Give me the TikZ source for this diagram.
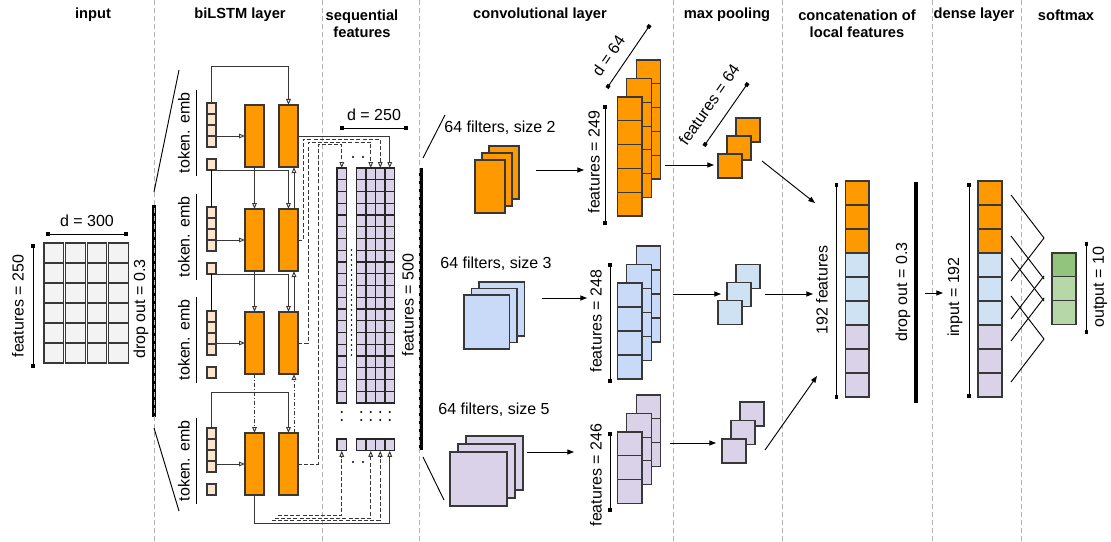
\documentclass[tikz,border=0pt]{standalone}
\usepackage{fontspec}
\setmainfont{Liberation Sans}
\usetikzlibrary{arrows.meta,calc}

\definecolor{orng}{HTML}{FF9900}
\definecolor{peach}{HTML}{FCE5CD}
\definecolor{lgray}{HTML}{F3F3F3}
\definecolor{cblue}{HTML}{C9DAF8}
\definecolor{pblue}{HTML}{CFE2F3}
\definecolor{lpurp}{HTML}{D9D2E9}
\definecolor{dgreen}{HTML}{93C47D}
\definecolor{lgreen}{HTML}{B6D7A8}
\definecolor{edge}{HTML}{383838}

\tikzset{
  sepline/.style={draw=black!30, line width=0.7pt, dash pattern=on 3.5pt off 2.5pt},
  box/.style={draw=edge, line width=0.8pt, inner sep=0pt, outer sep=0pt, anchor=north west},
  wh/.style 2 args={minimum width=#1*0.75pt, minimum height=#2*0.75pt},
  seqcell/.style={box, draw=black!85, line width=0.85pt, fill=lpurp, wh={9.5}{11.75}},
  coltitle/.style={font=\bfseries\fontsize{11}{12.75}\selectfont, align=center},
  lbl/.style={font=\fontsize{12}{14}\selectfont, inner sep=0pt},
  vlbl/.style={lbl, rotate=90},
  dimline/.style={line width=0.7pt, {Square[length=2.8pt,width=2.8pt]}-{Square[length=2.8pt,width=2.8pt]}},
  oarr/.style={draw=edge, -{Triangle[open,length=4.5pt,width=3.5pt]}},
  farr/.style={-{Triangle[length=5pt,width=3.8pt]}},
  dropbar/.style={line width=3pt},
  dashdt/.style={dash pattern=on 3pt off 1.5pt on 0.8pt off 1.5pt},
  dsh/.style={dash pattern=on 3pt off 1.6pt},
}

\begin{document}
\begin{tikzpicture}[x=0.75pt,y=-0.75pt,line width=0.7pt]
\useasboundingbox (0,0) rectangle (1111,542);

% column titles
\node[coltitle] (tin) at (93,15) {input};
\node[coltitle] (tbl) at (240,15) {biLSTM layer};
\node[coltitle] (tsq) at (362,23.5) {sequential\\features};
\node[coltitle] (tcv) at (540,15) {convolutional layer};
\node[coltitle] (tmp) at (727,15) {max pooling};
\node[coltitle] (tcc) at (857,23.5) {concatenation of\\local features};
\node[coltitle] (tdn) at (974,15) {dense layer};
\node[coltitle] (tsm) at (1066,15) {softmax};

% dropout bars and separators
\draw[dropbar] (154,205) -- (154,417);
\draw[dropbar] (420.5,168) -- (420.5,450);
\draw[dropbar] (916,182) -- (916,403);
\foreach \x in {154,322,419,673,782,932,1021}
  \draw[sepline] (\x,0) -- (\x,542);

% input
\foreach \i in {0,...,3}
  \foreach \j in {0,...,5}
    \node[box, fill=lgray, wh={19.5}{20}] (in\i-\j) at ({44+21.6*\i},{243+20*\j}) {};
\draw[dimline] (46,234) -- (128,234) node[lbl, midway, above=5.5pt] {d = 300};
\draw[dimline] (33,244) -- (33,368);
\node[vlbl] (inf) at (18,306) {features = 250};
\node[vlbl] (ind) at (141,309) {drop out = 0.3};
\draw (154,192) -- (179,70);
\draw (154,428) -- (179,511);

% biLSTM
\foreach \k/\y/\t in {1/103/105, 2/207/209, 3/311/312, 4/428/433} {
  \foreach \j in {0,...,3}
    \node[box, fill=peach, wh={9}{11}] (tok\k-\j) at (207,{\y+11*\j}) {};
  \node[box, fill=peach, wh={9}{11}] (sml\k) at (207,{\y+56}) {};
  \node[box, fill=orng, wh={19}{62}] (fwd\k) at (245,\t) {};
  \node[box, fill=orng, wh={19}{62}] (bwd\k) at (279,\t) {};
  \node[vlbl] (emb\k) at (184,{\t+28}) {token. emb};
  \draw (196,{\t-15}) -- (196,{\t+71});
  \draw[oarr] (tok\k-3.east |- fwd\k.west) -- (fwd\k.west);
}
\draw[oarr] (tok1-0.north) -- ++(0,-37) -| (bwd1.north);
\draw[oarr] (tok4-0.north) -- ++(0,-36) -| (bwd4.north);
\foreach \k/\n in {1/2,2/3} {
  \draw (sml\k.south) -- (tok\n-0.north);
  \draw[oarr] (sml\k.south east) -| (bwd\n.north);
  \draw[oarr] (fwd\k.south) -- (fwd\n.north);
  \draw[oarr] ($(bwd\n.north)+(5.5,0)$) -- ($(bwd\k.south)+(5.5,0)$);
}
\draw[oarr,dashdt] (fwd3.south) -- (fwd4.north);
\draw[oarr,dashdt] ($(bwd4.north)+(5.5,0)$) -- ($(bwd3.south)+(5.5,0)$);

% sequential features
\foreach \col/\x in {A/337,B/356.5,C/366,D/375.5,E/385} {
  \foreach \j in {0,...,19}
    \node[seqcell] (\col\j) at (\x,{168+11.75*\j}) {};
  \node[seqcell] (\col-end) at (\x,439) {};
  \fill ({\x+4.75},412) circle (0.8pt) ({\x+4.75},420) circle (0.8pt);
}
\fill (353,157) circle (0.8pt) (363,157) circle (0.8pt);
\fill (353,462) circle (0.8pt) (363,462) circle (0.8pt);
\foreach \y in {250,255,...,358}
  \fill (351.5,\y) circle (0.7pt);
\draw[oarr] (bwd1.east) -| (E0.north);
\draw[oarr,dsh] (bwd2.east) -- ++(5,0) |- ($(D0.north)+(0,-29)$) -- (D0.north);
\draw[oarr,dsh] (bwd3.east) -- ++(10,0) |- ($(C0.north)+(0,-26)$) -- (C0.north);
\draw[oarr,dsh] (bwd4.east) -- ++(20,0) |- ($(A0.north)+(0,-23.5)$) -- (A0.north);
\draw[oarr] (fwd4.south) -- ++(0,28) -| (E-end.south);
\coordinate (fa) at (278,515.5);
\coordinate (fc) at (275,518);
\coordinate (fd) at (272,520.5);
\draw[oarr,dsh] (fa) -| (A-end.south);
\draw[oarr,dsh] (fc) -| (C-end.south);
\draw[oarr,dsh] (fd) -| (D-end.south);
\draw[dimline] (340,128) -- (408,128) node[lbl, midway, above=5.5pt] {d = 250};
\node[vlbl] (sqf) at (408,305) {features = 500};
\draw (423,158) -- (445,115);
\draw (423,457) -- (444,500);

% convolutional layer
\foreach \i in {2,1,0} {
  \node[box, fill=orng, wh={30}{53}] (fltA\i) at ({475+7*\i},{160-7*\i}) {};
  \node[box, fill=cblue, wh={45.5}{54}] (fltB\i) at ({464+7.5*\i},{295-6.5*\i}) {};
  \node[box, fill=lpurp, wh={57}{54}] (fltC\i) at ({450+8*\i},{452-8*\i}) {};
}
\node[lbl, anchor=west] (fla) at (444,128) {64 filters, size 2};
\node[lbl, anchor=west] (flb) at (440,264) {64 filters, size 3};
\node[lbl, anchor=west] (flc) at (438,410) {64 filters, size 5};
\foreach \i in {2,1,0} {
  \foreach \j in {0,...,4}
    \node[box, fill=orng, wh={24.5}{23.8}] (mapA\i-\j) at ({617.5+9.3*\i},{97-18.5*\i+23.8*\j}) {};
  \foreach \j in {0,...,3}
    \node[box, fill=cblue, wh={24.5}{24}] (mapB\i-\j) at ({617.5+9.3*\i},{283-18.5*\i+24*\j}) {};
  \foreach \j in {0,...,2}
    \node[box, fill=lpurp, wh={24.5}{23.7}] (mapC\i-\j) at ({617.5+9.3*\i},{432-18.5*\i+23.7*\j}) {};
}
\coordinate (ca1) at (536,170);  \coordinate (ca2) at (584,170);
\coordinate (cb1) at (542,298);  \coordinate (cb2) at (587,298);
\coordinate (cc1) at (527,452);  \coordinate (cc2) at (574,452);
\draw[farr] (ca1) -- (ca2);
\draw[farr] (cb1) -- (cb2);
\draw[farr] (cc1) -- (cc2);
\draw[dimline] (605,105) -- (605,225);
\node[vlbl] (mfa) at (594,162) {features = 249};
\draw[dimline] (610,263) -- (610,383);
\node[vlbl] (mfb) at (596,321) {features = 248};
\draw[dimline] (610,432) -- (610,512);
\node[vlbl] (mfc) at (596,475) {features = 246};
\draw[dimline] (607,88) -- (650,25) node[lbl, pos=0.36, above=8pt, sloped] {d = 64};

% max pooling
\foreach \i in {2,1,0} {
  \node[box, fill=orng, wh={24}{24}] (poolA\i) at ({718+9*\i},{154-18*\i}) {};
  \node[box, fill=pblue, wh={24}{24}] (poolB\i) at ({718+9*\i},{300.5-18.2*\i}) {};
  \node[box, fill=lpurp, wh={24}{24}] (poolC\i) at ({722+9*\i},{439-18.5*\i}) {};
}
\draw[dimline] (704,146) -- (748,83) node[lbl, pos=0.48, above=10pt, sloped] {features = 64};
\coordinate (pa1) at (665,165);  \coordinate (pa2) at (714,165);
\coordinate (pb1) at (673,294);  \coordinate (pb2) at (721,294);
\coordinate (pc1) at (670,443);  \coordinate (pc2) at (716,443);
\coordinate (qa1) at (762,161);  \coordinate (qa2) at (815,203);
\coordinate (qb1) at (765,294);  \coordinate (qb2) at (813,294);
\coordinate (qc1) at (765,450);  \coordinate (qc2) at (817,376);
\foreach \p in {pa,pb,pc,qa,qb,qc}
  \draw[farr] (\p1) -- (\p2);

% concatenation, dense layer
\foreach \j/\f in {0/orng,1/orng,2/orng,3/pblue,4/pblue,5/pblue,6/lpurp,7/lpurp,8/lpurp} {
  \node[box, fill=\f, wh={23.5}{24}] (cat\j) at (845.5,{181+24*\j}) {};
  \node[box, fill=\f, wh={24}{24}] (dns\j) at (978,{181+24*\j}) {};
}
\draw[dimline] (836.5,183) -- (836.5,399);
\node[vlbl] (ccf) at (822,290) {192 features};
\node[vlbl] (ccd) at (903,292) {drop out = 0.3};
\coordinate (da1) at (925,293);  \coordinate (da2) at (943,293);
\draw[farr] (da1) -- (da2);
\draw[dimline] (969,183) -- (969,398);
\node[vlbl] (dni) at (955,297) {input = 192};

% fully connected lines
\foreach \a/\b in {195/238, 236/279, 258/301, 296/339}
  \draw (1011,\a) -- (1044,\b);
\foreach \a/\b in {238/281, 276/319, 298/341, 339/382}
  \draw (1044,\a) -- (1011,\b);

% softmax
\foreach \j/\f in {0/dgreen,1/lgreen,2/lgreen}
  \node[box, fill=\f, wh={24}{23.7}] (smx\j) at (1052,{253+23.7*\j}) {};
\draw[dimline] (1086.5,242) -- (1086.5,334);
\node[vlbl] (smo) at (1100,287) {output = 10};
\end{tikzpicture}
\end{document}
